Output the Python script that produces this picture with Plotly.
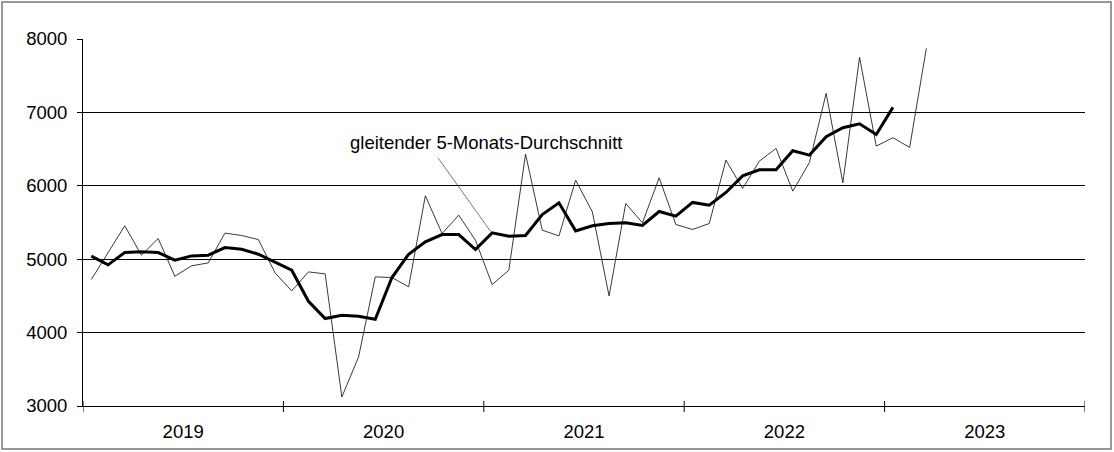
import plotly.graph_objects as go

# Monthly values Jan 2019 .. Mar 2023
monthly = [4723, 5080, 5455, 5055, 5282, 4768, 4909, 4950, 5355, 5323, 5268, 4814,
           4568, 4827, 4800, 3123, 3668, 4759, 4750, 4623, 5864, 5350, 5600, 5259,
           4655, 4850, 6432, 5395, 5318, 6077, 5645, 4500, 5759, 5495, 6109, 5473,
           5405, 5486, 6350, 5964, 6336, 6509, 5927, 6318, 7259, 6041, 7750, 6541,
           6655, 6523, 7873]
# gleitender 5-Monats-Durchschnitt, Jan 2019 .. Jan 2023
moving_avg = [5041, 4923, 5091, 5100, 5091, 4986, 5045, 5055, 5159, 5136, 5068, 4964,
              4850, 4427, 4191, 4236, 4223, 4182, 4750, 5068, 5236, 5336, 5336, 5132,
              5359, 5314, 5323, 5609, 5768, 5386, 5455, 5486, 5495, 5459, 5650, 5586,
              5773, 5736, 5909, 6136, 6218, 6218, 6477, 6418, 6668, 6791, 6845, 6700,
              7068]
years = ["2019", "2020", "2021", "2022", "2023"]
y_ticks = [3000, 4000, 5000, 6000, 7000, 8000]
annotation_text = "gleitender 5-Monats-Durchschnitt"

x_monthly = [i + 0.5 for i in range(len(monthly))]
x_avg = [i + 0.5 for i in range(len(moving_avg))]
n_months = 12 * len(years)

W, H = 1114, 452
L, R, T, B = 83, 29, 39, 46
pw, ph = W - L - R, H - T - B

fig = go.Figure()
fig.add_trace(go.Scatter(x=x_monthly, y=monthly, mode="lines",
                         line=dict(color="#222222", width=0.9), showlegend=False))
fig.add_trace(go.Scatter(x=x_avg, y=moving_avg, mode="lines",
                         line=dict(color="black", width=3), showlegend=False))

font = dict(family="Arial, Liberation Sans, sans-serif", size=18.5, color="black")

shapes = []
# year boundary ticks crossing the x axis
for k in range(len(years) + 1):
    shapes.append(dict(type="line", xref="x", yref="paper", x0=12 * k, x1=12 * k,
                       y0=-6 / ph, y1=5 / ph, line=dict(color="black", width=1)))
# leader line of the annotation
shapes.append(dict(type="line", xref="x", yref="y", x0=21.26, y0=6380, x1=24.4, y1=5380,
                   line=dict(color="#555555", width=0.8)))
# outer frame
shapes.append(dict(type="rect", xref="paper", yref="paper",
                   x0=(2 - L) / pw, x1=(W - 3 - L) / pw,
                   y0=-(H - 3 - T - ph) / ph, y1=(T - 2) / ph + 1,
                   line=dict(color="#777777", width=1.5)))

fig.update_layout(
    width=W, height=H,
    margin=dict(l=L, r=R, t=T, b=B, autoexpand=False),
    paper_bgcolor="white", plot_bgcolor="white",
    font=font,
    shapes=shapes,
    annotations=[dict(x=24.16, y=6585, xref="x", yref="y", text=annotation_text,
                      showarrow=False, font=font, xanchor="center", yanchor="middle")],
    xaxis=dict(range=[0, n_months], tickvals=[12 * k + 6 for k in range(len(years))],
               ticktext=years, ticks="", showgrid=False, zeroline=False,
               showline=True, linecolor="black", linewidth=1, automargin=False,
               ticklabelstandoff=9, tickfont=font),
    yaxis=dict(range=[3000, 8000], tickvals=y_ticks, ticks="outside", ticklen=5,
               tickcolor="black", showgrid=True, gridcolor="black", gridwidth=1,
               zeroline=False, showline=True, linecolor="black", linewidth=1,
               automargin=False, ticklabelstandoff=6, tickfont=font),
)

fig.write_html("out.html", config={"displayModeBar": False},
               post_script="document.body.style.margin='0';document.body.style.overflow='hidden';")
